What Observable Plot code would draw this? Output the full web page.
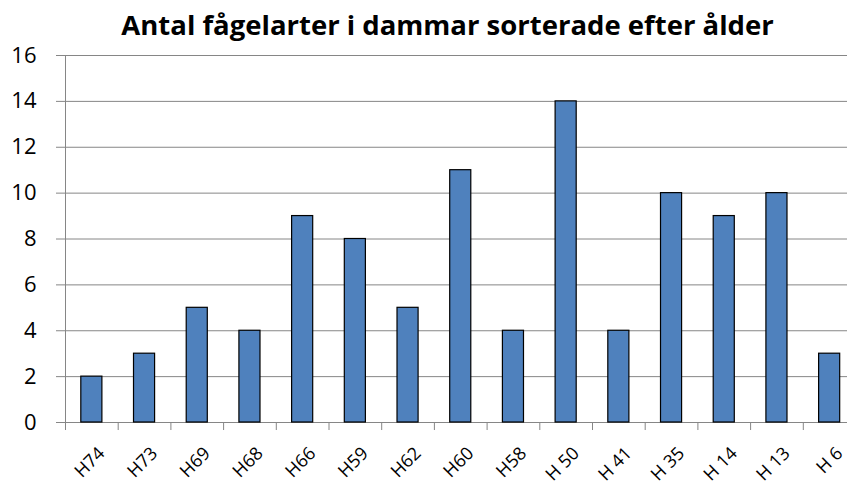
<!DOCTYPE html>
<html>
<head>
<meta charset="utf-8">
<script src="https://cdn.jsdelivr.net/npm/d3@7"></script>
<script src="https://cdn.jsdelivr.net/npm/@observablehq/plot@0.6"></script>
<style>
  html, body { margin: 0; padding: 0; background: #fff; overflow: hidden; }
  #chart svg { overflow: hidden; display: block; }
</style>
</head>
<body>
<div id="chart"></div>
<script>
const title = "Antal fågelarter i dammar sorterade efter ålder";
const categories = ["H74", "H73", "H69", "H68", "H66", "H59", "H62", "H60", "H58", "H 50", "H 41", "H 35", "H 14", "H 13", "H 6"];
const values = [2, 3, 5, 4, 9, 8, 5, 11, 4, 14, 4, 10, 9, 10, 3];
const yTicks = [0, 2, 4, 6, 8, 10, 12, 14, 16];

const data = categories.map((c, i) => ({cat: c, value: values[i]}));
const step = 52.7;
const grey = "#868686";

const chart = Plot.plot({
  width: 847,
  height: 488,
  marginLeft: 65,
  marginRight: 0,
  marginTop: 55,
  marginBottom: 66,
  style: {fontFamily: "'Open Sans', sans-serif", color: "#000", background: "#fff"},
  x: {domain: categories, range: [65, 65 + 15 * step], paddingInner: 0.6, paddingOuter: 0.3, round: false, axis: null},
  y: {domain: [0, 16], range: [422, 55]},
  marks: [
    Plot.gridY(yTicks, {stroke: grey, strokeOpacity: 1, strokeWidth: 1}),
    Plot.axisY(yTicks, {tickSize: 9, tickPadding: 20, fontSize: 22, stroke: grey, strokeOpacity: 1, label: null, tickFormat: d => d}),
    Plot.ruleX([categories[0]], {x: d => d, dx: -step / 2, y1: -0.35, y2: 16, stroke: grey, strokeWidth: 1}),
    Plot.ruleX(categories.slice(1), {x: d => d, dx: -step / 2, y1: -0.35, y2: 0, stroke: grey, strokeWidth: 1}),
    Plot.barY(data, {x: "cat", y: "value", fill: "#4F81BD", stroke: "#000", strokeWidth: 1.2}),
    Plot.text(categories, {x: d => d, y: 0, dx: 5, dy: 23, rotate: -45, textAnchor: "end", lineAnchor: "top", fontSize: 18, fill: "#000"}),
    Plot.text([title], {frameAnchor: "top", dx: -9, dy: -29, lineAnchor: "middle", fontSize: 27.5, fontWeight: "bold", fill: "#000"})
  ]
});
document.getElementById("chart").appendChild(chart);
</script>
</body>
</html>
